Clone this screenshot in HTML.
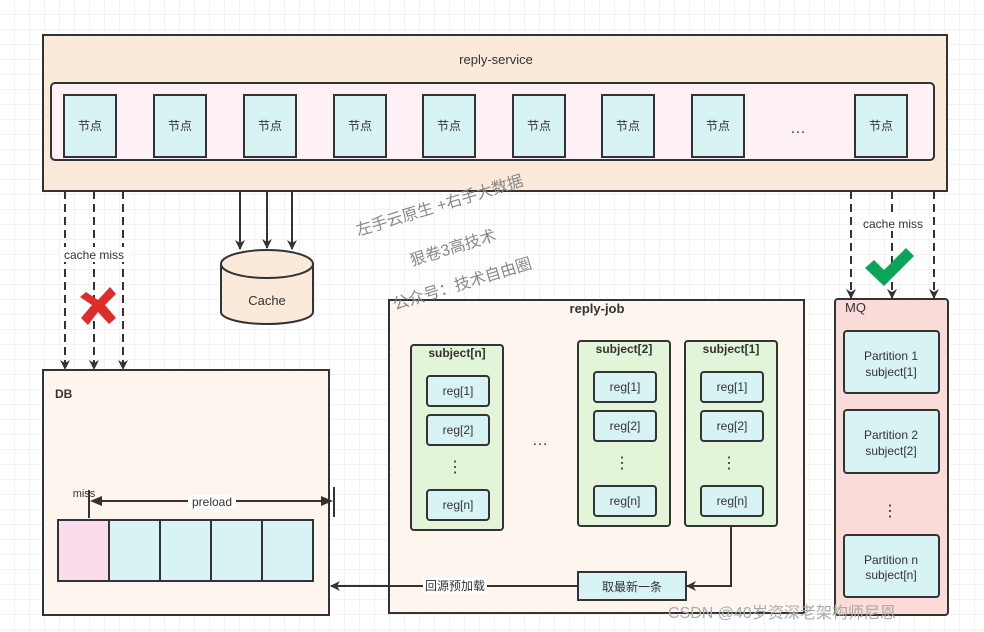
<!DOCTYPE html>
<html><head><meta charset="utf-8"><style>
body{margin:0;width:984px;height:632px;overflow:hidden;background:#fff;}
svg{display:block;font-family:"Liberation Sans","Noto Sans CJK SC",sans-serif;}
</style></head><body>
<svg width="984" height="632" viewBox="0 0 984 632" xmlns="http://www.w3.org/2000/svg">
<defs>
<pattern id="g" width="15" height="15" patternUnits="userSpaceOnUse"><path d="M15 0V15H0" fill="none" stroke="#e6e6e6" stroke-width="1"/></pattern>
<marker id="a" markerWidth="10" markerHeight="10" refX="9" refY="5" orient="auto" markerUnits="userSpaceOnUse"><path d="M0 0L10 5L0 10L3 5z" fill="#333"/></marker>
</defs>
<rect width="984" height="632" fill="url(#g)"/>
<g stroke="#333" stroke-width="2">
<rect x="43" y="35" width="904" height="156" fill="#fbe9d9"/>
<rect x="51" y="83" width="883" height="77" rx="4" fill="#fdf0f6"/>
<g fill="#d8f3f3">
<rect x="64" y="95" width="52" height="62"/><rect x="154" y="95" width="52" height="62"/><rect x="244" y="95" width="52" height="62"/><rect x="334" y="95" width="52" height="62"/><rect x="423" y="95" width="52" height="62"/><rect x="513" y="95" width="52" height="62"/><rect x="602" y="95" width="52" height="62"/><rect x="692" y="95" width="52" height="62"/><rect x="855" y="95" width="52" height="62"/>
</g>
<g stroke-dasharray="8,5" marker-end="url(#a)">
<line x1="65" y1="191" x2="65" y2="369"/><line x1="94" y1="191" x2="94" y2="369"/><line x1="123" y1="191" x2="123" y2="369"/>
<line x1="851" y1="191" x2="851" y2="298"/><line x1="892" y1="191" x2="892" y2="298"/><line x1="934" y1="191" x2="934" y2="298"/>
</g>
<g marker-end="url(#a)">
<line x1="240" y1="191" x2="240" y2="249"/><line x1="267" y1="191" x2="267" y2="248"/><line x1="292" y1="191" x2="292" y2="249"/>
</g>
<path d="M221 264V312A46 12 0 0 0 313 312V264" fill="#fbe9d9"/>
<ellipse cx="267" cy="264" rx="46" ry="14" fill="#fbe9d9"/>
<rect x="43" y="370" width="286" height="245" fill="#fef5ef"/>
<rect x="389" y="300" width="415" height="313" fill="#fef5ef"/>
<rect x="835" y="299" width="113" height="316" rx="3" fill="#fadbd8"/>
<g fill="#d8f3f3">
<rect x="844" y="331" width="95" height="62" rx="3"/><rect x="844" y="410" width="95" height="63" rx="3"/><rect x="844" y="535" width="95" height="62" rx="3"/>
</g>
<g fill="#e3f5d9">
<rect x="411" y="345" width="92" height="185" rx="3"/><rect x="578" y="341" width="92" height="185" rx="3"/><rect x="685" y="341" width="92" height="185" rx="3"/>
</g>
<g fill="#d8f3f3">
<rect x="427" y="376" width="62" height="30" rx="3"/><rect x="427" y="415" width="62" height="30" rx="3"/><rect x="427" y="490" width="62" height="30" rx="3"/>
<rect x="594" y="372" width="62" height="30" rx="3"/><rect x="594" y="411" width="62" height="30" rx="3"/><rect x="594" y="486" width="62" height="30" rx="3"/>
<rect x="701" y="372" width="62" height="30" rx="3"/><rect x="701" y="411" width="62" height="30" rx="3"/><rect x="701" y="486" width="62" height="30" rx="3"/>
<rect x="578" y="572" width="108" height="28"/>
<rect x="109" y="520" width="51" height="61"/><rect x="160" y="520" width="51" height="61"/><rect x="211" y="520" width="51" height="61"/><rect x="262" y="520" width="51" height="61"/>
</g>
<rect x="58" y="520" width="51" height="61" fill="#fadcec"/>
<path d="M731 526V586H687" fill="none" marker-end="url(#a)"/>
<line x1="578" y1="586" x2="331" y2="586" marker-end="url(#a)"/>
<line x1="89" y1="490" x2="89" y2="518"/><line x1="334" y1="487" x2="334" y2="517"/>
<line x1="100" y1="501" x2="323" y2="501"/>
</g>
<path d="M90 501L102 496L102 506z M333 501L321 496L321 506z" fill="#333"/>
<g font-size="12" fill="#333" text-anchor="middle">
<text x="496" y="64" font-size="13">reply-service</text>
<g><text x="90" y="130">节点</text><text x="180" y="130">节点</text><text x="270" y="130">节点</text><text x="360" y="130">节点</text><text x="449" y="130">节点</text><text x="539" y="130">节点</text><text x="628" y="130">节点</text><text x="718" y="130">节点</text><text x="881" y="130">节点</text></g>
<text x="798" y="133" font-size="16">…</text>
<rect x="60" y="247" width="70" height="15" fill="#fff"/><text x="94" y="259">cache miss</text>
<rect x="858" y="216" width="70" height="15" fill="#fff"/><text x="893" y="228">cache miss</text>
<text x="267" y="305" font-size="13">Cache</text>
<text x="55" y="398" font-weight="bold" text-anchor="start">DB</text>
<text x="84" y="497" font-size="11">miss</text>
<rect x="188" y="495" width="48" height="14" fill="#fff"/><text x="212" y="506">preload</text>
<text x="597" y="313" font-weight="bold" font-size="13">reply-job</text>
<text x="457" y="357" font-weight="bold">subject[n]</text><text x="624" y="353" font-weight="bold">subject[2]</text><text x="731" y="353" font-weight="bold">subject[1]</text>
<text x="458" y="395">reg[1]</text><text x="458" y="434">reg[2]</text><text x="458" y="509">reg[n]</text>
<text x="625" y="391">reg[1]</text><text x="625" y="430">reg[2]</text><text x="625" y="505">reg[n]</text>
<text x="732" y="391">reg[1]</text><text x="732" y="430">reg[2]</text><text x="732" y="505">reg[n]</text>
<text x="455" y="472" font-size="16">⋮</text><text x="622" y="468" font-size="16">⋮</text><text x="729" y="468" font-size="16">⋮</text>
<text x="540" y="445" font-size="16">…</text>
<text x="632" y="591">取最新一条</text>
<rect x="423" y="578" width="64" height="16" fill="#fff"/><text x="455" y="590">回源预加载</text>
<text x="845" y="312" font-size="13" text-anchor="start">MQ</text>
<text x="891" y="360">Partition 1</text><text x="891" y="376">subject[1]</text>
<text x="891" y="439">Partition 2</text><text x="891" y="455">subject[2]</text>
<text x="891" y="564">Partition n</text><text x="891" y="579">subject[n]</text>
<text x="890" y="516" font-size="16">⋮</text>
</g>
<path d="M86 292L98 300L110 287L116 294L105 305L116 318L109 324L98 312L88 325L81 318L92 305L80 297z" fill="#e02b2b"/>
<path d="M865 268L874 260L884 270L906 248L914 256L884 286z" fill="#0aa55a"/>
<g fill="#888" font-size="16">
<text transform="translate(358,236) rotate(-17)">左手云原生 +右手大数据</text>
<text transform="translate(412,266) rotate(-17)">狠卷3高技术</text>
<text transform="translate(395,310) rotate(-17)">公众号：技术自由圈</text>
<text x="668" y="618" font-size="16" fill="#aaa">CSDN @40岁资深老架构师尼恩</text>
</g>
</svg>
</body></html>
